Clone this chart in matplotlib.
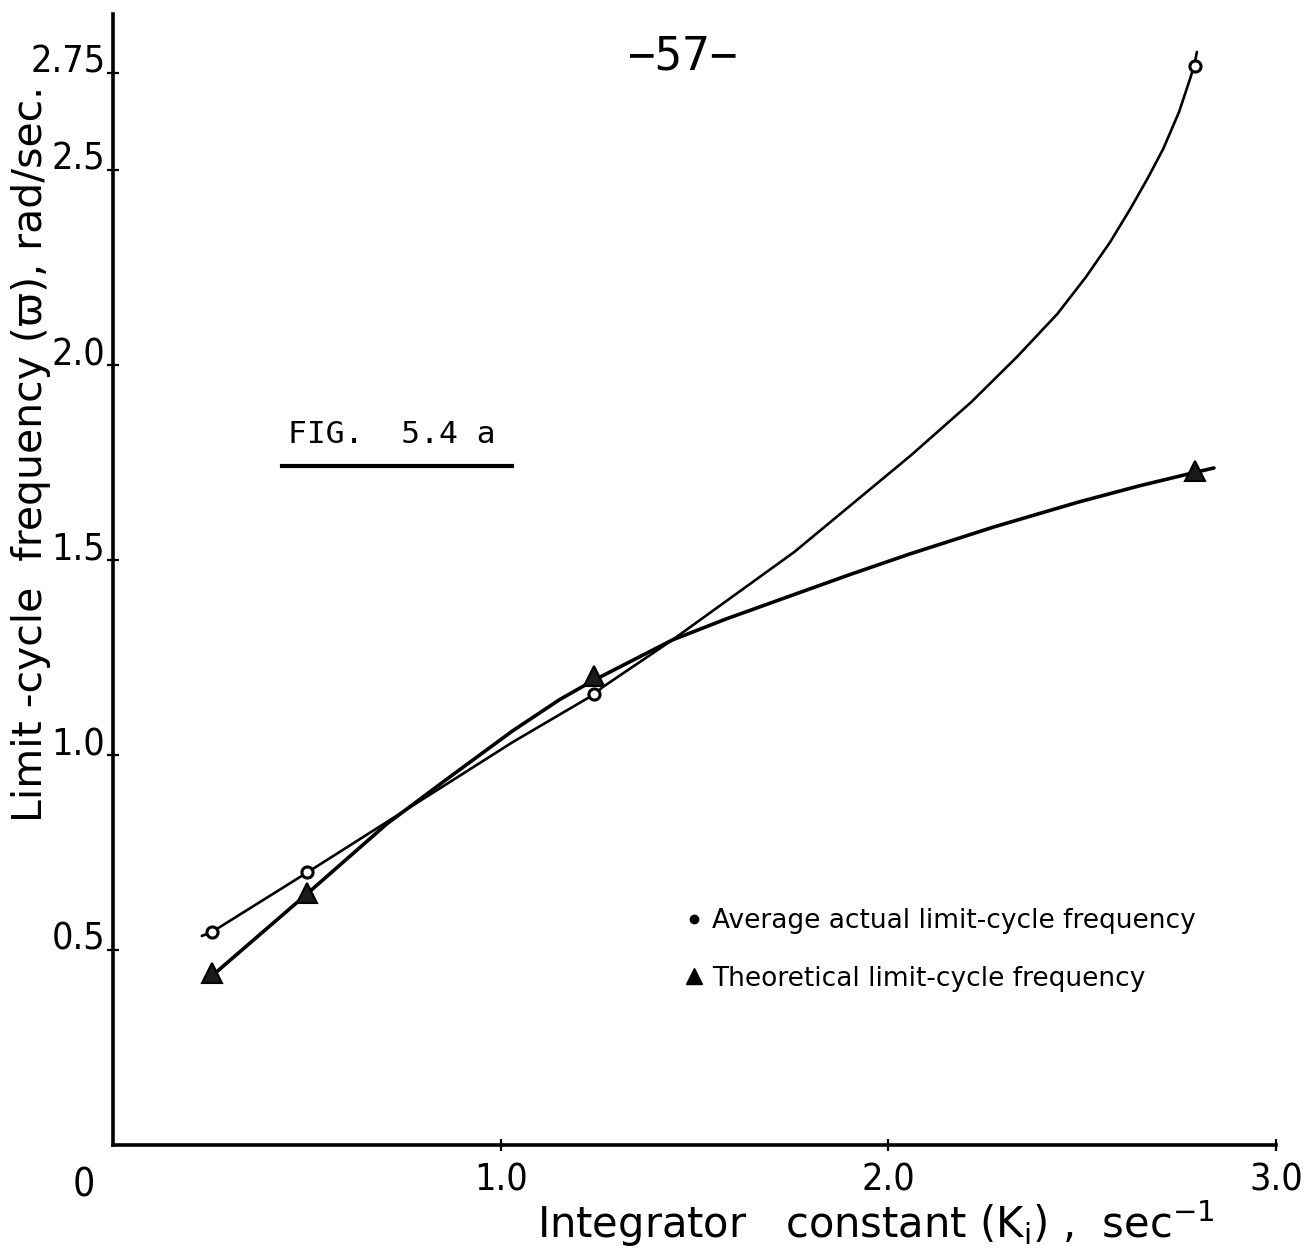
import matplotlib
matplotlib.use("Agg")
import matplotlib.pyplot as plt
from matplotlib.lines import Line2D

# ---------------- data ----------------
ki = [0.255, 0.50, 1.24, 2.79]                       # integrator constant, sec^-1
actual_freq = [0.546, 0.700, 1.156, 2.767]           # average actual limit-cycle frequency
theory_freq = [0.442, 0.646, 1.203, 1.728]           # theoretical limit-cycle frequency

# hand-drawn curves through the points
actual_curve_x = [0.229, 0.255, 0.503, 0.706, 1.031, 1.242, 1.263, 1.443, 1.758,
                  1.985, 2.059, 2.214, 2.332, 2.436, 2.510, 2.572, 2.624, 2.668,
                  2.709, 2.750, 2.778, 2.789, 2.796]
actual_curve_y = [0.536, 0.546, 0.700, 0.828, 1.033, 1.156, 1.174, 1.295, 1.521,
                  1.708, 1.769, 1.905, 2.021, 2.131, 2.226, 2.315, 2.400, 2.477,
                  2.554, 2.649, 2.733, 2.767, 2.803]
theory_curve_x = [0.237, 0.258, 0.497, 0.706, 0.861, 1.031, 1.152, 1.237, 1.443,
                  1.582, 1.753, 1.899, 2.054, 2.273, 2.492, 2.647, 2.784, 2.840]
theory_curve_y = [0.423, 0.436, 0.641, 0.823, 0.938, 1.062, 1.142, 1.190, 1.295,
                  1.349, 1.410, 1.462, 1.515, 1.585, 1.649, 1.690, 1.723, 1.736]

x_ticks = [1.0, 2.0, 3.0]
x_tick_labels = ["1.0", "2.0", "3.0"]
y_ticks = [0.5, 1.0, 1.5, 2.0, 2.5, 2.75]
y_tick_labels = ["0.5", "1.0", "1.5", "2.0", "2.5", "2.75"]
legend_labels = ["Average actual limit-cycle frequency",
                 "Theoretical limit-cycle frequency"]

W, H = 1307, 1256
fig = plt.figure(figsize=(W / 100, H / 100), dpi=100)
fig.patch.set_facecolor("white")

ax = fig.add_axes([113 / W, 1 - 1145 / H, 1163 / W, 1131 / H])
ax.set_xlim(0, 3.0)
ax.set_ylim(0, 2.9)
ax.set_facecolor("white")

for s in ["top", "right"]:
    ax.spines[s].set_visible(False)
for s in ["left", "bottom"]:
    ax.spines[s].set_linewidth(2.6)
    ax.spines[s].set_color("black")

ax.set_xticks(x_ticks)
ax.set_xticklabels(x_tick_labels, fontsize=27, fontstretch="condensed")
ax.set_yticks(y_ticks)
ax.set_yticklabels(y_tick_labels, fontsize=27, fontstretch="condensed")
for lab in ax.get_yticklabels():
    lab.set_verticalalignment("baseline")
ax.tick_params(axis="both", direction="inout", length=9, width=1.6, color="black")
ax.tick_params(axis="x", pad=8)
ax.tick_params(axis="y", pad=1)

# curves
ax.plot(actual_curve_x, actual_curve_y, color="black", lw=1.9,
        solid_capstyle="round", solid_joinstyle="round")
ax.plot(theory_curve_x, theory_curve_y, color="black", lw=2.6,
        solid_capstyle="round", solid_joinstyle="round")

# markers
ax.plot(ki, actual_freq, ls="none", marker="o", markersize=8, mfc="white",
        mec="black", mew=2.2)
ax.plot(ki, theory_freq, ls="none", marker="^", markersize=15, mfc="#1a1a1a",
        mec="black", mew=1.5)

# origin label
ax.text(-0.075, -0.055, "0", fontsize=28, fontstretch="condensed",
        ha="center", va="top", clip_on=False)

# legend
handles = [Line2D([], [], ls="none", marker="o", markersize=6, color="black"),
           Line2D([], [], ls="none", marker="^", markersize=11, mfc="black",
                  mec="black")]
leg = ax.legend(handles, legend_labels, loc="upper left",
                bbox_to_anchor=(686 / W, 1 - 908 / H), bbox_transform=fig.transFigure,
                frameon=False, fontsize=19, handlelength=0.6, handletextpad=0.4,
                labelspacing=1.2, borderpad=0, borderaxespad=0)

# axis labels
fig.text(876 / W, 1 - 1238 / H,
         r"Integrator   constant (K$_\mathregular{i}$) ,  sec$^{-1}$",
         fontsize=30, ha="center", va="baseline")
fig.text(31 / W, 1 - 454 / H, "Limit -cycle  frequency (ϖ), rad/sec.",
         fontsize=29.5, rotation=90, ha="center", va="center")

# figure caption and page number
fig.text(288 / W, 1 - 443 / H, "FIG.  5.4 a", family="DejaVu Sans Mono",
         fontsize=22.5, ha="left", va="baseline")
fig.add_artist(Line2D([282 / W, 512 / W], [1 - 466 / H, 1 - 466 / H],
                      transform=fig.transFigure, color="black", lw=3))
fig.text(682 / W, 1 - 57 / H, "\u221257\u2212", family="DejaVu Sans Mono",
         fontsize=33, ha="center", va="center")

fig.savefig("out.png", dpi=100, facecolor="white")
